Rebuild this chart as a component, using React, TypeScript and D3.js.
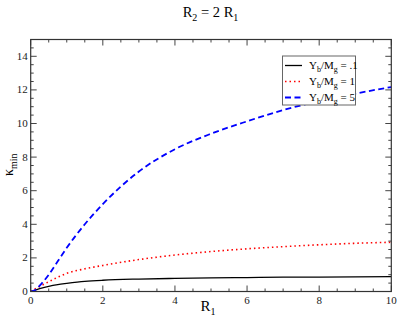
import React from "react";
import * as d3 from "d3";

const xVals = [0, 0.1, 0.25, 0.5, 0.75, 1, 1.5, 2, 3, 4, 5, 6, 7, 8, 9, 10];
const black = [0, 0.07, 0.17, 0.31, 0.41, 0.48, 0.6, 0.67, 0.74, 0.78, 0.81, 0.83, 0.85, 0.86, 0.87, 0.88];
const red = [0, 0.12, 0.3, 0.58, 0.85, 1.08, 1.35, 1.55, 1.9, 2.17, 2.38, 2.54, 2.67, 2.78, 2.87, 2.93];
const blue = [0, 0.05, 0.35, 1.0, 1.8, 2.6, 4.0, 5.2, 7.14, 8.47, 9.39, 10.13, 10.8, 11.33, 11.78, 12.17];
const legendLabels = [".1", "1", "5"];
const xTicks = [0, 2, 4, 6, 8, 10];
const yTicks = [0, 2, 4, 6, 8, 10, 12, 14];

export default function App() {
  const W = 397, H = 322;
  const L = 30.7, R = 391.3, T = 39.5, B = 291.5;
  const x = d3.scaleLinear().domain([0, 10]).range([L, R]);
  const y = d3.scaleLinear().domain([0, 15]).range([B, T]);
  const line = (ys: number[]) =>
    d3.line<number>().x((_, i) => x(xVals[i])).y((d) => y(d)).curve(d3.curveMonotoneX)(ys) || "";
  const series = [
    { data: black, color: "#000000", dash: undefined, w: 1.3 },
    { data: red, color: "#ff0000", dash: "1.5,3", w: 1.6 },
    { data: blue, color: "#0000ff", dash: "6,3.5", w: 1.8 },
  ];
  const xMinor = d3.range(0, 10.001, 0.5);
  const yMinor = d3.range(0, 15.001, 0.5);
  const font = "Liberation Serif, DejaVu Serif, serif";
  const axisColor = "#333";
  return (
    <div style={{ position: "absolute", left: 0, top: 0 }}>
      <svg width={W} height={H} style={{ display: "block", background: "#fff", fontFamily: font }}>
        <text x={210.5} y={17} textAnchor="middle" fontSize={14.5} fill="#000" style={{ fontFamily: font }}>
          R<tspan dy={4} fontSize={10}>2</tspan>
          <tspan dy={-4}> = 2 R</tspan>
          <tspan dy={4} fontSize={10}>1</tspan>
        </text>
        <defs>
          <clipPath id="plotclip">
            <rect x={L} y={T} width={R - L} height={B - T} />
          </clipPath>
        </defs>
        <g clipPath="url(#plotclip)">
          {series.map((s, i) => (
            <path key={i} d={line(s.data)} fill="none" stroke={s.color} strokeWidth={s.w} strokeDasharray={s.dash} />
          ))}
        </g>
        <g stroke="#444" strokeWidth={1}>
          {xMinor.map((v, i) => {
            const major = Math.abs(v % 2) < 1e-9;
            const len = major ? 6 : 3;
            const px = x(v);
            return (
              <g key={"x" + i}>
                <line x1={px} x2={px} y1={B} y2={B - len} />
                <line x1={px} x2={px} y1={T} y2={T + len} />
              </g>
            );
          })}
          {yMinor.map((v, i) => {
            const major = Math.abs(v % 2) < 1e-9;
            const len = major ? 6 : 3;
            const py = y(v);
            return (
              <g key={"y" + i}>
                <line x1={L} x2={L + len} y1={py} y2={py} />
                <line x1={R} x2={R - len} y1={py} y2={py} />
              </g>
            );
          })}
        </g>
        <rect x={L} y={T} width={R - L} height={B - T} fill="none" stroke={axisColor} strokeWidth={1.2} />
        {xTicks.map((v) => (
          <text key={"xl" + v} x={x(v)} y={304} textAnchor="middle" fontSize={11} fill="#222" style={{ fontFamily: font }}>
            {v}
          </text>
        ))}
        {yTicks.map((v) => (
          <text key={"yl" + v} x={L - 3} y={y(v) + 3.5} textAnchor="end" fontSize={11} fill="#222" style={{ fontFamily: font }}>
            {v}
          </text>
        ))}
        <text x={208} y={311} textAnchor="middle" fontSize={15} fill="#000" style={{ fontFamily: font }}>
          R<tspan dy={4} fontSize={10}>1</tspan>
        </text>
        <text transform="translate(13,176) rotate(-90)" fontSize={14} fill="#000" style={{ fontFamily: font }}>
          κ<tspan dy={3.5} fontSize={10}>min</tspan>
        </text>
        <rect x={282.5} y={56} width={73} height={49} fill="#fff" stroke="#666" strokeWidth={1} />
        {series.map((s, i) => {
          const ly = 65.5 + i * 16;
          return (
            <g key={"lg" + i}>
              <line x1={285} x2={302} y1={ly} y2={ly} stroke={s.color} strokeWidth={s.w} strokeDasharray={s.dash} />
              <text x={309} y={ly + 3.5} fontSize={11} fill="#000" style={{ fontFamily: font }}>
                Y<tspan dy={3} fontSize={8}>b</tspan>
                <tspan dy={-3}>/M</tspan>
                <tspan dy={3} fontSize={8}>g</tspan>
                <tspan dy={-3}>{" = " + legendLabels[i]}</tspan>
              </text>
            </g>
          );
        })}
      </svg>
    </div>
  );
}
